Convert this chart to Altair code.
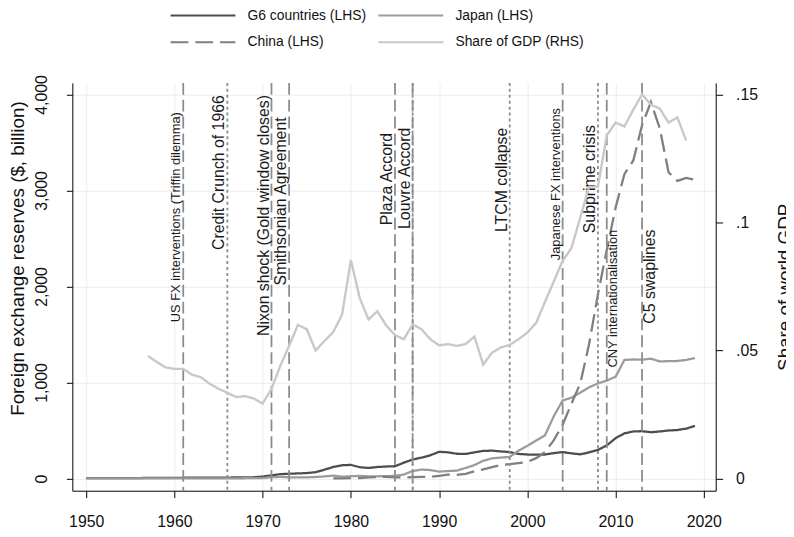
import altair as alt
import pandas as pd

# ---------------- data ----------------
years = list(range(1950, 2020))
g6 = [3, 3, 4, 4, 5, 5, 5, 6, 6, 6,
      7, 8, 8, 9, 9, 10, 10, 11, 12, 13,
      20, 33, 45, 50, 53, 57, 66, 92, 120, 138,
      142, 118, 110, 120, 125, 128, 165, 198, 218, 242,
      278, 273, 258, 256, 272, 288, 290, 282, 276, 256,
      250, 248, 250, 265, 275, 262, 252, 272, 298, 345,
      420, 470, 490, 493, 482, 490, 500, 505, 520, 548]
japan = [1, 1, 1, 1, 1, 1, 1, 1, 1, 1,
         2, 2, 2, 2, 2, 2, 2, 2, 3, 4,
         5, 14, 17, 12, 13, 12, 16, 22, 30, 19,
         24, 27, 22, 23, 25, 27, 42, 78, 93, 88,
         72, 78, 82, 110, 140, 185, 210, 218, 225, 290,
         340, 395, 450, 650, 812, 842, 895, 950, 990, 1020,
         1060, 1235, 1240, 1237, 1248, 1220, 1222, 1224, 1235, 1255]
china_years = list(range(1978, 2020))
china = [2, 2, 3, 5, 11, 15, 17, 12, 11, 15,
         18, 17, 28, 40, 38, 48, 75, 95, 118, 140,
         150, 160, 172, 212, 275, 400, 560, 780, 990, 1400,
         1920, 2380, 2820, 3170, 3310, 3680, 3920, 3650, 3190, 3100,
         3130, 3110]
share_years = list(range(1957, 2019))
share = [0.0479, 0.0455, 0.0434, 0.0428, 0.0428, 0.0405, 0.0396, 0.0370, 0.0350, 0.0335,
         0.0318, 0.0322, 0.0312, 0.0293, 0.0350, 0.0440, 0.0518, 0.0600, 0.0583, 0.0500,
         0.0537, 0.0572, 0.0640, 0.0853, 0.0705, 0.0621, 0.0653, 0.0598, 0.0560, 0.0544,
         0.0602, 0.0583, 0.0544, 0.0520, 0.0525, 0.0518, 0.0525, 0.0554, 0.0445, 0.0492,
         0.0512, 0.0522, 0.0544, 0.0570, 0.0608, 0.0690, 0.0770, 0.0850, 0.0900, 0.1020,
         0.1140, 0.1140, 0.1340, 0.1390, 0.1375, 0.1440, 0.1500, 0.1460, 0.1445, 0.1390,
         0.1410, 0.1320]

# legend order (laid out column by column in two columns)
series_names = ["G6 countries (LHS)", "China (LHS)", "Japan (LHS)", "Share of GDP (RHS)"]
series_colors = ["#4d4d4d", "#7f7f7f", "#9b9b9b", "#c8c8c8"]
series_dash = [[1, 0], [18, 7], [1, 0], [1, 0]]

event_years = [1961, 1966, 1971, 1973, 1985, 1987, 1987, 1998, 2004, 2008, 2009, 2013]
event_labels = ["US FX interventions (Triffin dilemma)", "Credit Crunch of 1966",
                "Nixon shock (Gold window closes)", "Smithsonian Agreement",
                "Plaza Accord", "Louvre Accord", "", "LTCM collapse",
                "Japanese FX interventions", "Subprime crisis",
                "CNY internationalisation", "C5 swaplines"]
event_styles = ["dash", "dot", "dash", "dash", "dash", "dash", "dot", "dot",
                "dash", "dot", "dash", "dash"]
event_side = ["left", "left", "left", "left", "left", "left", "left", "left",
              "left", "left", "right", "right"]
event_font = [13, 16, 16, 16, 16, 16, 16, 16, 13, 16, 13, 16]
event_label_y = [2722, 3186, 2739, 2886, 3118, 3126, 3126, 3110, 3066, 3118, 1873, 2103]

# ---------------- frames ----------------
rows = []
for y, v in zip(years, g6):
    rows.append({"year": y, "value": v, "series": "G6 countries (LHS)"})
for y, v in zip(years, japan):
    rows.append({"year": y, "value": v, "series": "Japan (LHS)"})
for y, v in zip(china_years, china):
    rows.append({"year": y, "value": v, "series": "China (LHS)"})
lines_df = pd.DataFrame(rows)
share_df = pd.DataFrame({"year": share_years, "share": share, "series": "Share of GDP (RHS)"})
events_df = pd.DataFrame({"year": event_years, "label": event_labels, "style": event_styles,
                          "side": event_side, "fsize": event_font, "value": event_label_y})

FONT = "Liberation Sans"

x_enc = alt.X("year:Q",
              scale=alt.Scale(domain=[1948.43, 2021.35], nice=False, zero=False),
              axis=alt.Axis(values=list(range(1950, 2021, 10)), format="d", title=None,
                            tickSize=7, labelPadding=16, grid=True))

yl_scale = alt.Scale(domain=[-127, 4120], nice=False, zero=False)
yr_scale = alt.Scale(domain=[-127 * 0.15 / 4000, 4120 * 0.15 / 4000], nice=False, zero=False)

left_axis = alt.Axis(values=[0, 1000, 2000, 3000, 4000], format=",.0f",
                     labelAngle=270, labelAlign="center", labelBaseline="bottom",
                     tickSize=6, labelPadding=17, grid=True,
                     title="Foreign exchange reserves ($, billion)",
                     titleFontSize=19, titleAngle=270, titleX=-49, titleY=177,
                     titleAlign="center", titleBaseline="alphabetic")

legend = alt.Legend(title=None, orient="none", legendX=98, legendY=-76, columns=2,
                    symbolType="stroke", symbolSize=4300, symbolStrokeWidth=2,
                    clipHeight=16, labelFontSize=14, labelOffset=11, columnPadding=11,
                    rowPadding=11, labelFont=FONT, labelColor="#111111")
color_enc = alt.Color("series:N", scale=alt.Scale(domain=series_names, range=series_colors),
                      legend=legend)
dash_enc = alt.StrokeDash("series:N", scale=alt.Scale(domain=series_names, range=series_dash),
                          legend=legend)

lines = alt.Chart(lines_df).mark_line(strokeWidth=2.3).encode(
    x=x_enc,
    y=alt.Y("value:Q", scale=yl_scale, axis=left_axis),
    color=color_enc,
    strokeDash=dash_enc,
)

rules_dash = alt.Chart(events_df).transform_filter(alt.datum.style == "dash").mark_rule(
    color="#8c8c8c", strokeWidth=1.8, strokeDash=[12, 5]).encode(x="year:Q")
rules_dot = alt.Chart(events_df).transform_filter(alt.datum.style == "dot").mark_rule(
    color="#8c8c8c", strokeWidth=1.8, strokeDash=[3, 3]).encode(x="year:Q")

text_left = alt.Chart(events_df).transform_filter(alt.datum.side == "left").mark_text(
    angle=270, baseline="bottom", align="center", font=FONT, color="#1a1a1a").encode(
    x="year:Q",
    y=alt.Y("value:Q", scale=yl_scale, axis=left_axis),
    text="label:N",
    size=alt.Size("fsize:Q", scale=None),
)
text_right = alt.Chart(events_df).transform_filter(alt.datum.side == "right").mark_text(
    angle=270, baseline="top", align="center", font=FONT, color="#1a1a1a").encode(
    x="year:Q",
    y=alt.Y("value:Q", scale=yl_scale, axis=left_axis),
    text="label:N",
    size=alt.Size("fsize:Q", scale=None),
)

left = alt.layer(lines, rules_dash, rules_dot, text_left, text_right)

share_line = alt.Chart(share_df).mark_line(strokeWidth=2.4).encode(
    x="year:Q",
    y=alt.Y("share:Q", scale=yr_scale,
            axis=alt.Axis(orient="right", values=[0, 0.05, 0.1, 0.15],
                          labelExpr="datum.value == 0 ? '0' : substring(format(datum.value, '.2~f'), 1)",
                          tickSize=7, labelPadding=13, labelAlign="left", labelBaseline="middle",
                          grid=False, title="Share of world GDP", titleFontSize=19,
                          titleAngle=270, titleX=76, titleY=206, titleAlign="center",
                          titleBaseline="alphabetic")),
    color=color_enc,
    strokeDash=dash_enc,
)

chart = alt.layer(left, share_line).resolve_scale(y="independent").properties(
    width=650, height=412,
    autosize=alt.AutoSizeParams(type="none"),
    padding={"left": 65, "top": 73, "right": 71, "bottom": 36},
).configure_view(stroke=None).configure_axis(
    domainColor="#000000", tickColor="#000000", labelFont=FONT, titleFont=FONT,
    labelFontSize=16, labelColor="#111111", titleColor="#111111",
    gridColor="#ececec", titleFontWeight="normal", domainWidth=1, tickWidth=1,
)

chart.save("out.html", embed_options={"renderer": "svg", "actions": False})
